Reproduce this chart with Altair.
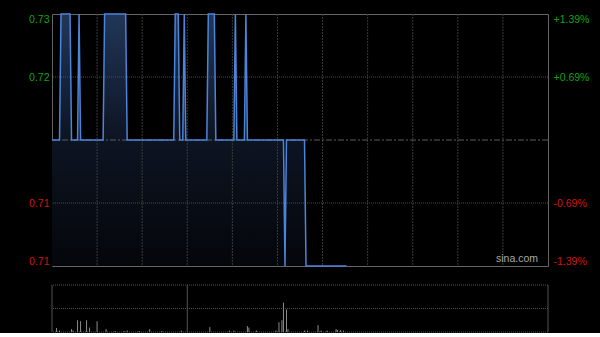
import altair as alt
import pandas as pd

# ---------------- data ----------------
PREV_CLOSE = 0.72
PRICE_MIN = 0.71
PRICE_MAX = 0.73
SESSION_MINUTES = 330

# intraday price path (minute index from open, price) - vertices of the line
price_minute = [0, 5, 6, 12, 13, 17, 18, 19, 34, 35, 49, 50, 81, 82, 84, 85, 87, 88,
                89, 103, 104, 108, 109, 121, 122, 123, 128, 129, 130, 154, 155, 156,
                168, 169, 196]
price_value = [0.72, 0.72, 0.73, 0.73, 0.72, 0.72, 0.73, 0.72, 0.72, 0.73, 0.73, 0.72,
               0.72, 0.73, 0.73, 0.72, 0.72, 0.73, 0.72, 0.72, 0.73, 0.73, 0.72, 0.72,
               0.73, 0.72, 0.72, 0.73, 0.72, 0.72, 0.71, 0.72, 0.72, 0.71, 0.71]

# volume bars
vol_minute = [3, 5, 13, 14, 17, 19, 23, 25, 30, 36, 42, 48, 50, 58, 65, 73, 86, 105,
              118, 121, 130, 131, 136, 149, 151, 153, 154, 156, 157, 168, 170, 177,
              179, 183, 189, 190, 192, 194]
vol_value = [4, 1.5, 3, 1.5, 12, 11, 12, 4.5, 11, 3, 1, 1, 1.5, 1, 3, 1, 1.5, 5,
             1.5, 1.5, 6, 4.5, 1.5, 1.5, 10, 12, 30, 23, 3, 1.5, 1.5, 7,
             1.5, 1.5, 3, 2, 2, 1.5]

price_ticks = [0.71, 0.715, 0.725, 0.73]
price_grid = [0.715, 0.725]
time_grid = [30, 60, 90, 120, 150, 180, 210, 240, 270, 300]
vol_grid = [0, 24, 48]
vol_domain = [0, 48]
vol_divider = [90]
panel_edges = [0, SESSION_MINUTES]
watermark = ["sina.com"]

UP = "#12a012"
DOWN = "#d01515"
FONT = "Liberation Sans"

price_df = pd.DataFrame({"m": price_minute, "p": price_value})
vol_df = pd.DataFrame({"m": vol_minute, "v": vol_value})


def xs():
    return alt.Scale(domain=[0, SESSION_MINUTES], nice=False, zero=False)


def ys():
    return alt.Scale(domain=[PRICE_MIN, PRICE_MAX], nice=False, zero=False)


def vs():
    return alt.Scale(domain=vol_domain, nice=False, zero=True)


label_color = alt.condition(f"datum.value > {PREV_CLOSE}", alt.value(UP), alt.value(DOWN))
left_axis = alt.Axis(
    orient="left", values=price_ticks, format=".2f", labelFlush=True,
    labelColor=label_color, ticks=False, domain=False, grid=False,
    labelPadding=3, labelFontSize=10.5, labelFont=FONT,
    minExtent=46, maxExtent=46, title=None,
)
right_expr = (f"(datum.value > {PREV_CLOSE} ? '+' : '-') + "
              f"format(abs(datum.value / {PREV_CLOSE} - 1) * 100, '.2f') + '%'")
right_axis = alt.Axis(
    orient="right", values=price_ticks, labelExpr=right_expr, labelFlush=True,
    labelColor=label_color, ticks=False, domain=False, grid=False,
    labelPadding=5, labelFontSize=10.5, labelFont=FONT,
    minExtent=47, maxExtent=47, title=None,
)

gradient = alt.Gradient(
    gradient="linear",
    stops=[alt.GradientStop(color="#213658", offset=0),
           alt.GradientStop(color="#0d1422", offset=0.5),
           alt.GradientStop(color="#04060a", offset=1)],
    x1=0, x2=0, y1=0, y2=1,
)

area = alt.Chart(price_df).mark_area(color=gradient, interpolate="linear").encode(
    x=alt.X("m:Q", scale=xs(), axis=None),
    y=alt.Y("p:Q", scale=ys(), axis=left_axis),
    y2=alt.datum(PRICE_MIN),
)
vgrid = alt.Chart(pd.DataFrame({"m": time_grid})).mark_rule(
    color="#3a3a3a", strokeDash=[2, 1], strokeWidth=1
).encode(x=alt.X("m:Q", scale=xs(), axis=None))
hgrid = alt.Chart(pd.DataFrame({"p": price_grid})).mark_rule(
    color="#4a4a4a", strokeDash=[1, 1], strokeWidth=1
).encode(y=alt.Y("p:Q", scale=ys(), axis=None))
wm = alt.Chart(pd.DataFrame({"t": watermark, "m": [SESSION_MINUTES], "p": [PRICE_MIN]})).mark_text(
    align="right", baseline="bottom", dx=-10, dy=-2, color="#a8a8a8", fontSize=10.5, font=FONT
).encode(
    x=alt.X("m:Q", scale=xs(), axis=None),
    y=alt.Y("p:Q", scale=ys(), axis=None),
    text="t:N",
)
prev_rule = alt.Chart(pd.DataFrame({"p": [PREV_CLOSE]})).mark_rule(
    color="#5c5c5c", strokeDash=[6, 2, 2, 2], strokeWidth=1
).encode(y=alt.Y("p:Q", scale=ys(), axis=right_axis))
line = alt.Chart(price_df).mark_line(color="#4c84da", strokeWidth=1.5, interpolate="linear").encode(
    x=alt.X("m:Q", scale=xs(), axis=None),
    y=alt.Y("p:Q", scale=ys(), axis=None),
)

main = alt.layer(area, vgrid, hgrid, wm, prev_rule, line).resolve_scale(
    y="independent"
).properties(width=496, height=252)

# ---------------- volume panel ----------------
vol_axis = alt.Axis(orient="left", labels=False, ticks=False, domain=False, grid=False,
                    minExtent=46, maxExtent=46, title=None)
vgrid_lines = alt.Chart(pd.DataFrame({"v": vol_grid})).mark_rule(
    color="#505050", strokeDash=[1, 1], strokeWidth=1
).encode(y=alt.Y("v:Q", scale=vs(), axis=vol_axis))
edges = alt.Chart(pd.DataFrame({"m": panel_edges})).mark_rule(
    color="#555555", strokeWidth=1
).encode(x=alt.X("m:Q", scale=xs(), axis=None))
divider = alt.Chart(pd.DataFrame({"m": vol_divider})).mark_rule(
    color="#555555", strokeWidth=1
).encode(x=alt.X("m:Q", scale=xs(), axis=None))
bars = alt.Chart(vol_df).mark_rule(color="#8c8c8c", strokeWidth=1).encode(
    x=alt.X("m:Q", scale=xs(), axis=None),
    y=alt.Y("v:Q", scale=vs(), axis=None),
    y2=alt.datum(0),
)
volume = alt.layer(vgrid_lines, edges, divider, bars).properties(
    width=496, height=47, view=alt.ViewBackground(stroke="transparent")
)

chart = alt.vconcat(main, volume, spacing=14).properties(
    background="#000000",
    padding={"left": 5, "right": 4, "top": 10, "bottom": 0},
).configure_view(stroke="#666666", strokeWidth=1)

chart.save("out.html", embed_options={"renderer": "svg", "actions": False})
